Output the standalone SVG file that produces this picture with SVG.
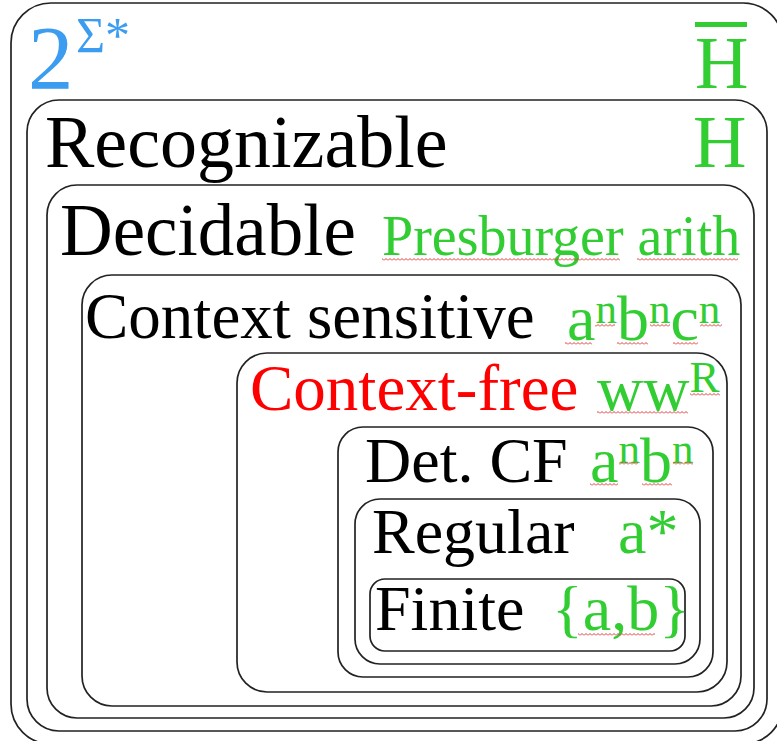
<svg xmlns="http://www.w3.org/2000/svg" width="777" height="741" viewBox="0 0 777 741">
<defs>
<pattern id="sq" width="4" height="3" patternUnits="userSpaceOnUse"><path d="M0 2.5 L2 0.5 L4 2.5" stroke="#e03a3a" stroke-width="1" fill="none"/></pattern>
</defs>
<style>
.box{fill:none;stroke:#222;stroke-width:1.7}
text{font-family:"Liberation Serif","Times New Roman",serif}
.k{fill:#000;font-size:64px}
.g{fill:#32cd32;font-size:64px}
.sup{font-size:43px}
.sqg{fill:url(#sq)}
</style>
<rect width="777" height="741" fill="#fff"/>
<g id="all">
<rect class="box" x="11" y="3" width="772" height="741" rx="40"/>
<text x="28" y="89" style="fill:#3b9cf0;font-size:91px">2</text>
<text x="76" y="52" style="fill:#3b9cf0;font-size:50px">Σ*</text>
<text x="695" y="88" class="g" style="font-size:74px">H</text>
<rect x="695" y="22" width="52" height="5" fill="#32cd32"/>
</g>
<g id="recognizable">
<rect class="box" x="27" y="100" width="740" height="631" rx="32"/>
<text x="45" y="167" class="k" style="font-size:74px">Recognizable</text>
<text x="693" y="167" class="g" style="font-size:74px">H</text>
</g>
<g id="decidable">
<rect class="box" x="47" y="185" width="707" height="533" rx="30"/>
<text x="60" y="255" class="k" style="font-size:73px">Decidable</text>
<text x="382" y="255" class="g" style="font-size:56px">Presburger arith</text>
<rect class="sqg" x="382" y="258" width="238" height="3"/>
<rect class="sqg" x="637" y="258" width="101" height="3"/>
</g>
<g id="context-sensitive">
<rect class="box" x="82" y="275" width="659" height="431" rx="30"/>
<text x="85" y="338" class="k" style="font-size:65px">Context sensitive</text>
<text x="567" y="340" class="g">a<tspan class="sup" dy="-17">n</tspan><tspan dy="17">b</tspan><tspan class="sup" dy="-17">n</tspan><tspan dy="17">c</tspan><tspan class="sup" dy="-17">n</tspan></text>
<rect class="sqg" x="565" y="342" width="27" height="3"/>
<rect class="sqg" x="595" y="324" width="20" height="3"/>
<rect class="sqg" x="617" y="342" width="31" height="3"/>
<rect class="sqg" x="650" y="324" width="20" height="3"/>
<rect class="sqg" x="673" y="342" width="25" height="3"/>
<rect class="sqg" x="700" y="324" width="22" height="3"/>
</g>
<g id="context-free">
<rect class="box" x="237" y="353" width="490" height="339" rx="30"/>
<text x="250" y="410" class="k" style="fill:#f00;font-size:65px">Context-free</text>
<text x="597" y="410" class="g">ww<tspan style="font-size:45px" dy="-18">R</tspan></text>
<rect class="sqg" x="597" y="411" width="91" height="3"/>
<rect class="sqg" x="690" y="393" width="30" height="3"/>
</g>
<g id="det-cf">
<rect class="box" x="338" y="427" width="375" height="250" rx="25"/>
<text x="365" y="482" class="k">Det. CF</text>
<text x="590" y="482" class="g">a<tspan class="sup" dy="-19">n</tspan><tspan dy="19">b</tspan><tspan class="sup" dy="-19">n</tspan></text>
<rect class="sqg" x="590" y="483" width="28" height="3"/>
<rect class="sqg" x="619" y="462" width="19" height="3"/>
<rect class="sqg" x="642" y="483" width="30" height="3"/>
<rect class="sqg" x="673" y="462" width="20" height="3"/>
</g>
<g id="regular">
<rect class="box" x="355" y="499" width="345" height="165" rx="25"/>
<text x="372" y="553" class="k">Regular</text>
<text x="618" y="553" class="g">a*</text>
</g>
<g id="finite">
<rect class="box" x="370" y="579" width="315" height="72" rx="15"/>
<text x="375" y="630" class="k">Finite</text>
<text x="552" y="630" class="g">{a,b}</text>
<rect class="sqg" x="578" y="633" width="77" height="3"/>
</g>
<g id="connectors"/>
</svg>
